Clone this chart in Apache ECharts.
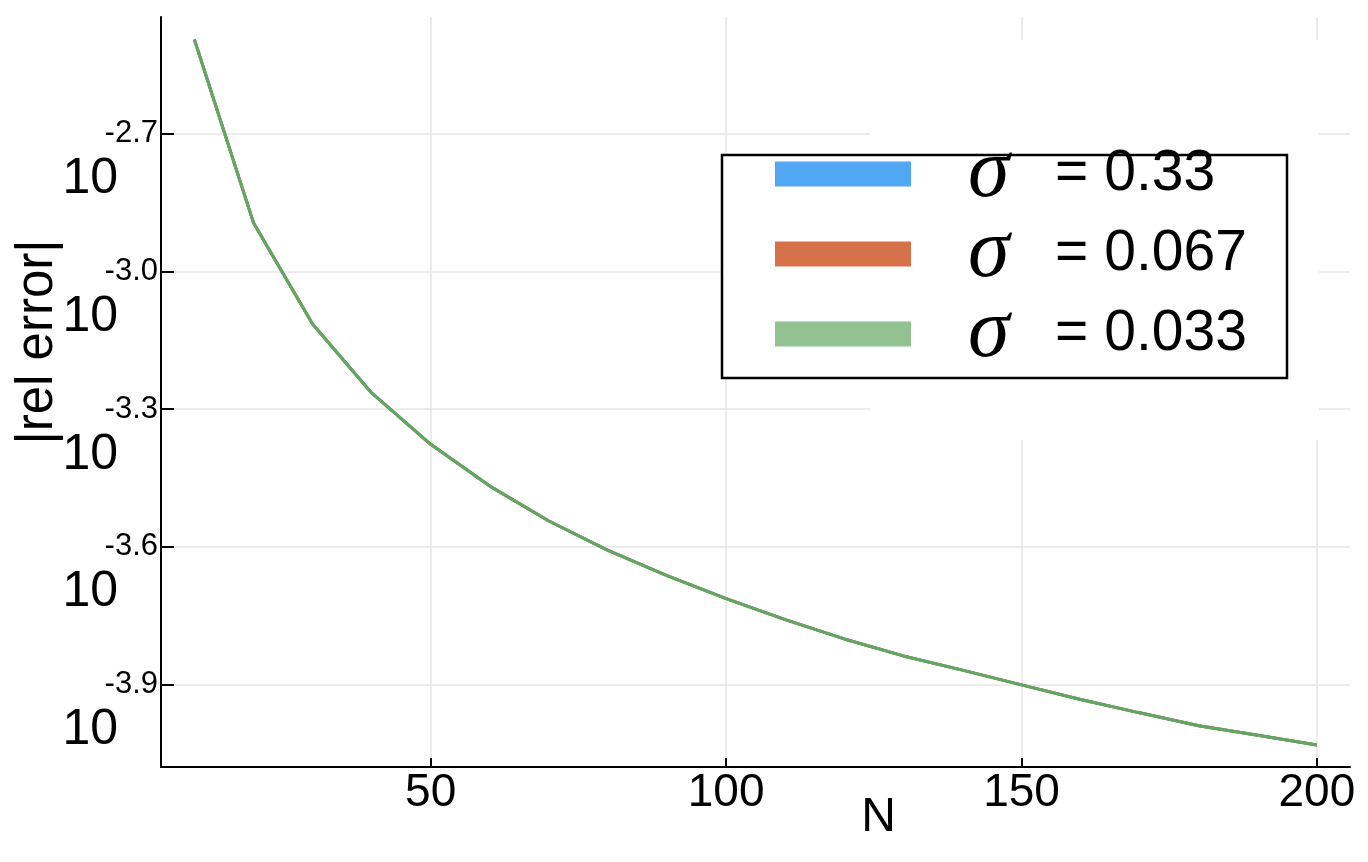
<!DOCTYPE html>
<html>
<head>
<meta charset="utf-8">
<script src="https://cdn.jsdelivr.net/npm/echarts@6/dist/echarts.min.js"></script>
<style>
  html, body { margin: 0; padding: 0; background: #fff; }
  #chart { width: 1368px; height: 862px; }
</style>
</head>
<body>
<div id="chart"></div>
<script>
// N values
const nValues = [10, 20, 30, 40, 50, 60, 70, 80, 90, 100, 110, 120, 130, 140, 150, 160, 170, 180, 190, 200];
// log10(|rel error|) (three curves overlap)
const log10ErrSigma033 = [-2.495, -2.894, -3.115, -3.265, -3.377, -3.468, -3.544, -3.608, -3.663, -3.713, -3.759, -3.801, -3.838, -3.869, -3.901, -3.933, -3.962, -3.990, -4.011, -4.032];
const log10ErrSigma0067 = [-2.495, -2.894, -3.115, -3.265, -3.377, -3.468, -3.544, -3.608, -3.663, -3.713, -3.759, -3.801, -3.838, -3.869, -3.901, -3.933, -3.962, -3.990, -4.011, -4.032];
const log10ErrSigma0033 = [-2.495, -2.894, -3.115, -3.265, -3.377, -3.468, -3.544, -3.608, -3.663, -3.713, -3.759, -3.801, -3.838, -3.869, -3.901, -3.933, -3.962, -3.990, -4.011, -4.032];
const seriesNames = ['σ = 0.33', 'σ = 0.067', 'σ = 0.033'];
const xTicks = [50, 100, 150, 200];
const yTickExponents = [-3.9, -3.6, -3.3, -3.0, -2.7];

const lineColors = ['#4fa3f0', '#d4704a', '#60a860'];
const swatchColors = ['#52a7f3', '#d57249', '#93c292'];

const pairs = arr => nValues.map((n, i) => [n, arr[i]]);
const allData = [log10ErrSigma033, log10ErrSigma0067, log10ErrSigma0033];

const chart = echarts.init(document.getElementById('chart'));
const font = 'Liberation Sans, Arial, Helvetica, sans-serif';

chart.setOption({
  animation: false,
  backgroundColor: '#ffffff',
  textStyle: { fontFamily: font, color: '#000' },
  grid: { left: 161, right: 18, top: 17, bottom: 95, containLabel: false, outerBoundsMode: 'none' },
  xAxis: {
    type: 'value',
    min: 4.35,
    max: 205.6,
    name: 'N',
    nameLocation: 'middle',
    nameGap: 27,
    nameMoveOverlap: false,
    nameTextStyle: { fontFamily: font, fontSize: 48, color: '#000', padding: [0, 0, 0, 246] },
    axisLine: { show: true, onZero: false, lineStyle: { color: '#000', width: 2 } },
    axisTick: { show: true, inside: true, length: 9, customValues: xTicks, lineStyle: { color: '#000', width: 2 } },
    axisLabel: { customValues: xTicks, fontFamily: font, fontSize: 46, color: '#000', margin: 3 },
    splitLine: { show: true, lineStyle: { color: '#e6e6e6', width: 1.5 } }
  },
  yAxis: {
    type: 'value',
    min: -4.080,
    max: -2.446,
    name: '|rel error|',
    nameLocation: 'middle',
    nameGap: 98,
    nameMoveOverlap: false,
    nameTextStyle: { fontFamily: font, fontSize: 51, color: '#000', padding: [0, 0, 0, 100] },
    axisLine: { show: true, onZero: false, lineStyle: { color: '#000', width: 2 } },
    axisTick: { show: true, inside: true, length: 13, customValues: yTickExponents, lineStyle: { color: '#000', width: 2 } },
    axisLabel: {
      customValues: yTickExponents,
      margin: 3,
      formatter: v => '{sp| }\n{e|' + v.toFixed(1) + '}\n{b|10}',
      rich: {
        sp: { fontSize: 20, lineHeight: 56, fontFamily: font },
        e: { fontSize: 31, lineHeight: 36, fontFamily: font, color: '#000', align: 'right' },
        b: { fontSize: 50, lineHeight: 56, fontFamily: font, color: '#000', align: 'right', padding: [0, 40, 0, 0] }
      }
    },
    splitLine: { show: true, lineStyle: { color: '#e6e6e6', width: 1.5 } }
  },
  legend: {
    orient: 'vertical',
    left: 775,
    top: 132,
    padding: 0,
    itemWidth: 136,
    itemHeight: 25,
    itemGap: -4,
    selectedMode: false,
    z: 6,
    data: seriesNames.map((n, i) => ({ name: n, icon: 'rect', itemStyle: { color: swatchColors[i], borderWidth: 0 } })),
    formatter: n => '{s|σ}{t|  ' + n.slice(n.indexOf('=')) + '}',
    textStyle: {
      color: '#000',
      rich: {
        s: { fontFamily: 'Liberation Serif, DejaVu Serif, serif', fontStyle: 'italic', fontSize: 84, lineHeight: 36, color: '#000', padding: [0, 0, 0, 52] },
        t: { fontFamily: font, fontSize: 57, lineHeight: 36, color: '#000', padding: [0, 0, 0, 14] }
      }
    }
  },
  graphic: [
    { type: 'rect', z: 1, silent: true, shape: { x: 870, y: 40, width: 449, height: 400 }, style: { fill: '#ffffff' } },
    { type: 'rect', z: 5, silent: true, shape: { x: 722, y: 155, width: 565, height: 223 }, style: { fill: '#ffffff', stroke: '#000', lineWidth: 2.5 } }
  ],
  series: seriesNames.map((n, i) => ({
    name: n,
    type: 'line',
    data: pairs(allData[i]),
    symbol: 'none',
    z: 2 + i,
    color: lineColors[i],
    lineStyle: { color: lineColors[i], width: 3 }
  }))
});
</script>
</body>
</html>
